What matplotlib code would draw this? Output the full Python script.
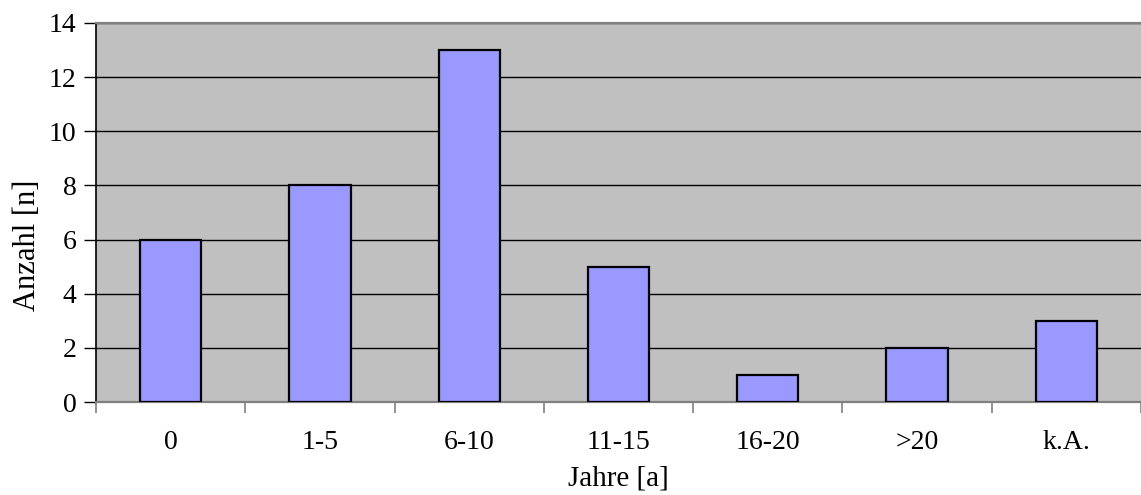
import numpy as np
import matplotlib.pyplot as plt

plt.rcParams['font.family'] = ['Liberation Serif', 'DejaVu Serif']

categories = ['0', '1-5', '6-10', '11-15', '16-20', '>20', 'k.A.']
counts = [6, 8, 13, 5, 1, 2, 3]
y_ticks = [0, 2, 4, 6, 8, 10, 12, 14]

fig = plt.figure(figsize=(11.41, 4.95), dpi=100)
ax = fig.add_axes([96 / 1141, 93 / 495, 1 - 96 / 1141, 379 / 495])
ax.set_facecolor('#C0C0C0')

x = np.arange(len(categories))
ax.bar(x, counts, width=0.41, color='#9999FF', edgecolor='black',
       linewidth=1.6, zorder=3)

ax.set_xlim(-0.5, len(categories) - 0.5)
ax.set_ylim(0, 14)
ax.set_yticks(y_ticks)
ax.yaxis.grid(True, color='black', linewidth=1.0, zorder=1)
ax.set_axisbelow(True)

# category labels centered, tick marks on the boundaries
ax.set_xticks(x)
ax.set_xticklabels(categories, fontsize=20)
ax.tick_params(axis='x', which='major', length=0, pad=20)
ax.set_xticks(np.arange(-0.5, len(categories) - 0.4, 1.0), minor=True)
ax.tick_params(axis='x', which='minor', length=8, width=1.2, color='#808080',
               direction='out')
ax.tick_params(axis='y', length=9, width=1.0, direction='out', labelsize=20,
               pad=5)

for side in ['top', 'bottom']:
    ax.spines[side].set_color('#808080')
    ax.spines[side].set_linewidth(1.6)
ax.spines['right'].set_visible(False)
ax.spines['left'].set_color('black')
ax.spines['left'].set_linewidth(1.2)

ax.set_ylabel('Anzahl [n]', fontsize=22)
ax.yaxis.set_label_coords(-0.052, 0.414)
ax.set_xlabel('Jahre [a]', fontsize=21, labelpad=8)

fig.savefig('out.png', dpi=100)
